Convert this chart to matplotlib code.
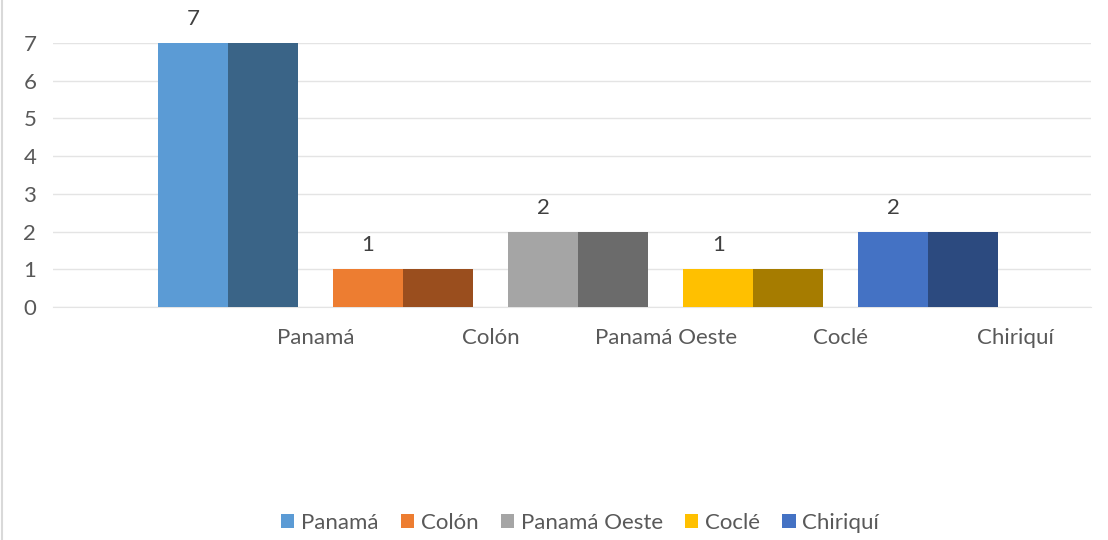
import matplotlib.pyplot as plt
import numpy as np

plt.rcParams['font.family'] = ['Lato', 'DejaVu Sans']

# data
categories = ['Panamá', 'Colón', 'Panamá Oeste', 'Coclé', 'Chiriquí']
values = [7, 1, 2, 1, 2]
front_colors = ['#5B9BD5', '#ED7D31', '#A5A5A5', '#FFC000', '#4472C4']
side_colors = ['#3A6487', '#9A4E1E', '#6B6B6B', '#A67C00', '#2C4A7F']
yticks = [0, 1, 2, 3, 4, 5, 6, 7]

txt = '#595959'
grid = '#E4E4E4'

fig = plt.figure(figsize=(11.08, 5.4), dpi=100)
ax = fig.add_axes([0.0478, 0.4315, 0.9369, 0.4889])

x = np.arange(len(categories))
half = 0.4
handles = []
for i, (v, fc, sc) in enumerate(zip(values, front_colors, side_colors)):
    h = ax.bar(x[i] - half / 2, v, width=half, color=fc, zorder=3, label=categories[i])
    ax.bar(x[i] + half / 2, v, width=half, color=sc, zorder=3)
    handles.append(h)
    # value label sits over the front half of the column
    ax.annotate(str(v), (x[i] - half / 2, v), xytext=(0, 10), textcoords='offset points',
                ha='center', va='bottom', fontsize=16, color='#404040', clip_on=False)

ax.set_xlim(-1.0, 4.93)
ax.set_ylim(0, 7)
ax.set_yticks(yticks)
ax.set_yticklabels([str(t) for t in yticks], fontsize=16, color=txt)
ax.set_xticks(x + 0.5)
ax.set_xticklabels(categories, fontsize=16, color=txt)
ax.tick_params(axis='both', length=0)
ax.tick_params(axis='x', pad=15)
ax.tick_params(axis='y', pad=12)
ax.grid(axis='y', color=grid, linewidth=1, zorder=0)
for s in ['top', 'right', 'left']:
    ax.spines[s].set_visible(False)
ax.spines['bottom'].set_color(grid)

fig.legend(handles=handles, labels=categories, loc='center', bbox_to_anchor=(0.5235, 0.032),
           ncol=5, frameon=False, fontsize=16, handlelength=0.6, handleheight=0.6,
           handletextpad=0.3, columnspacing=1.0, labelcolor=txt)

# thin chart border on the left edge
fig.add_artist(plt.Line2D([0.002, 0.002], [0, 1], color='#D9D9D9', linewidth=1.5,
                          transform=fig.transFigure))

plt.savefig('out.png', dpi=100)
